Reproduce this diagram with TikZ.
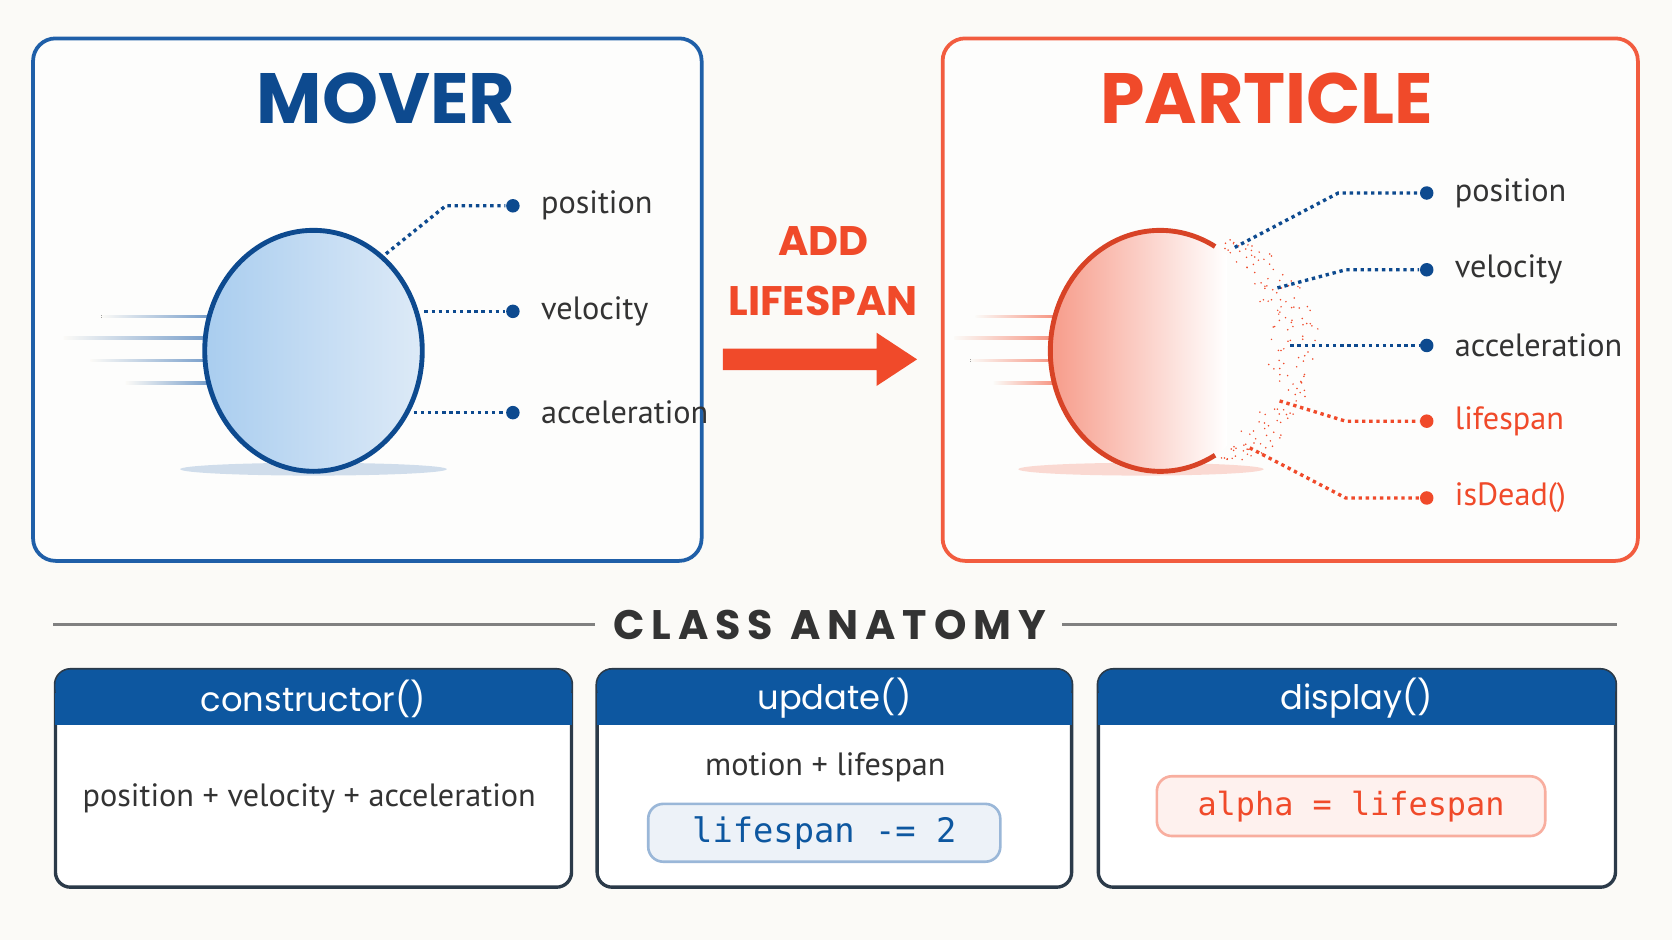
\documentclass[tikz,border=0pt]{standalone}
\usepackage{fontspec}
\setmainfont{PT Sans}
\newfontfamily\headfont{Poppins}
\setmonofont{DejaVu Sans Mono}
\usetikzlibrary{calc}
\definecolor{moverblue}{HTML}{0D4A8F}
\definecolor{boxblue}{HTML}{1F5FA8}
\definecolor{headblue}{HTML}{0D57A0}
\definecolor{partred}{HTML}{F04A2A}
\definecolor{inkgray}{HTML}{333333}
\definecolor{paper}{HTML}{FBFAF7}
\definecolor{ballblue}{HTML}{A9CDEF}
\definecolor{balllight}{HTML}{DDEAF7}
\tikzset{
  panel/.style={draw, line width=1pt, rounded corners=6pt, fill=white!60!paper},
  dot/.style={circle, fill, inner sep=0pt, minimum size=3.6pt},
  lead/.style={densely dotted, line width=0.9pt},
  attr/.style={anchor=west, font=\fontsize{8.6}{9}\selectfont, text=inkgray},
  title/.style={font=\headfont\bfseries\fontsize{19}{19}\selectfont},
  card/.style={draw=inkgray!80!headblue, line width=0.9pt, rounded corners=4pt, fill=white},
  cardhead/.style={font=\headfont\fontsize{9}{9}\selectfont, text=white},
  codebox/.style={rounded corners=4pt, line width=0.7pt, minimum height=0.53cm}
}
\begin{document}
\begin{tikzpicture}[x=0.01cm, y=-0.01cm]
  \fill[paper] (0,0) rectangle (1568,882);
  \useasboundingbox (0,0) rectangle (1568,882);

  % mover panel
  \draw[panel, draw=boxblue] (31,36) rectangle (658,526);
  \node[title, text=moverblue] (movertitle) at (362,92) {MOVER};
  \fill[boxblue!40, opacity=.5] (294,440) ellipse (125 and 6);
  \foreach \y/\x in {297/95,317/60,338/85,359/118}
    \fill[left color=paper, right color=boxblue!60] (\x,\y-1.2) rectangle (195,\y+1.2);
  \shade[left color=ballblue, right color=balllight] (294,329) ellipse (102 and 113);
  \draw[moverblue, line width=1.3pt] (294,329) ellipse (102 and 113);
  \foreach \name/\txt/\y in {mpos/position/193, mvel/velocity/292, macc/acceleration/387}{
    \node[dot, moverblue] (\name) at (481,\y) {};
    \node[attr] at ($(\name)+(14,0)$) {\txt};
  }
  \coordinate (mposa) at (362,238);
  \coordinate (mvela) at (398,292);
  \coordinate (macca) at (388,387);
  \draw[lead, moverblue] (mposa) -- (418,193) -- (mpos);
  \draw[lead, moverblue] (mvela) -- (mvel);
  \draw[lead, moverblue] (macca) -- (macc);

  % transition arrow
  \node[font=\headfont\bfseries\fontsize{11}{16}\selectfont, text=partred, align=center] (addlabel) at (772,254) {ADD\\LIFESPAN};
  \fill[partred] (678,327) -- (822,327) -- (822,312) -- (860,337) -- (822,362) -- (822,347) -- (678,347) -- cycle;

  % particle panel
  \draw[panel, draw=partred!90] (884,36) rectangle (1536,526);
  \node[title, text=partred] (parttitle) at (1188,92) {PARTICLE};
  \fill[partred!40, opacity=.5] (1070,440) ellipse (115 and 6);
  \foreach \y/\x in {297/915,317/895,338/910,359/932}
    \fill[left color=paper, right color=partred!60] (\x,\y-1.2) rectangle (990,\y+1.2);
  \begin{scope}
    \clip (1088,329) ellipse (103 and 113);
    \shade[left color=partred!55, right color=white] (985,210) rectangle (1150,450);
  \end{scope}
  \draw[partred!90!black, line width=1.3pt] (1139.5,426.9) arc[start angle=60, end angle=300, x radius=103, y radius=113];
  \pgfmathsetseed{7}
  \foreach \i in {1,...,160}{
    \pgfmathsetmacro{\ang}{rand*68}
    \pgfmathsetmacro{\rr}{0.97+0.12*rnd}
    \pgfmathsetmacro{\dx}{40*rnd}
    \fill[partred] ({1088+103*\rr*cos(\ang)+\dx},{329-113*sin(\ang)}) circle (0.8);
  }
  \foreach \name/\txt/\y/\c in {ppos/position/181/moverblue, pvel/velocity/253/moverblue, pacc/acceleration/324/moverblue, plife/lifespan/395/partred, pdead/isDead()/467/partred}{
    \node[dot, \c] (\name) at (1338,\y) {};
  }
  \node[attr] at ($(ppos)+(14,0)$) {position};
  \node[attr] at ($(pvel)+(14,0)$) {velocity};
  \node[attr] at ($(pacc)+(14,0)$) {acceleration};
  \node[attr, text=partred] at ($(plife)+(14,0)$) {lifespan};
  \node[attr, text=partred] at ($(pdead)+(14,0)$) {isDead()};
  \coordinate (pposa) at (1158,232);
  \coordinate (pvela) at (1198,270);
  \coordinate (pacca) at (1210,324);
  \coordinate (plifea) at (1200,376);
  \coordinate (pdeada) at (1172,420);
  \draw[lead, moverblue] (pposa) -- (1255,181) -- (ppos);
  \draw[lead, moverblue] (pvela) -- (1262,253) -- (pvel);
  \draw[lead, moverblue] (pacca) -- (pacc);
  \draw[lead, partred] (plifea) -- (1262,395) -- (plife);
  \draw[lead, partred] (pdeada) -- (1262,467) -- (pdead);

  % class anatomy
  \node[font=\headfont\bfseries\fontsize{11}{11}\selectfont, text=inkgray] (anatomy) at (778,586) {C\,L\,A\,S\,S\ \ A\,N\,A\,T\,O\,M\,Y};
  \draw[gray, line width=0.8pt] (50,586) -- (558,586);
  \draw[gray, line width=0.8pt] (996,586) -- (1516,586);
  \foreach \name/\xa/\xb/\txt in {ctor/52/536/constructor(), upd/560/1005/update(), disp/1030/1515/display()}{
    \draw[card] (\xa,628) rectangle (\xb,832);
    \fill[headblue, rounded corners=4pt] (\xa,628) rectangle (\xb,660);
    \fill[headblue] (\xa,650) rectangle (\xb,680);
    \node[cardhead] (\name) at ({(\xa+\xb)/2},655) {\txt};
  }
  \node[attr, anchor=center] (ctortxt) at (290,749) {position + velocity + acceleration};
  \node[attr, anchor=center] (updtxt) at (774,720) {motion + lifespan};
  \node[codebox, draw=boxblue!45, fill=boxblue!8, minimum width=3.3cm,
    font=\ttfamily\fontsize{9}{9}\selectfont, text=headblue] (updcode) at (773,781) {lifespan -= 2};
  \node[codebox, draw=partred!45, fill=partred!8, minimum width=3.64cm, minimum height=0.56cm,
    font=\ttfamily\fontsize{8.5}{9}\selectfont, text=partred] (dispcode) at (1267,756) {alpha = lifespan};
\end{tikzpicture}
\end{document}
